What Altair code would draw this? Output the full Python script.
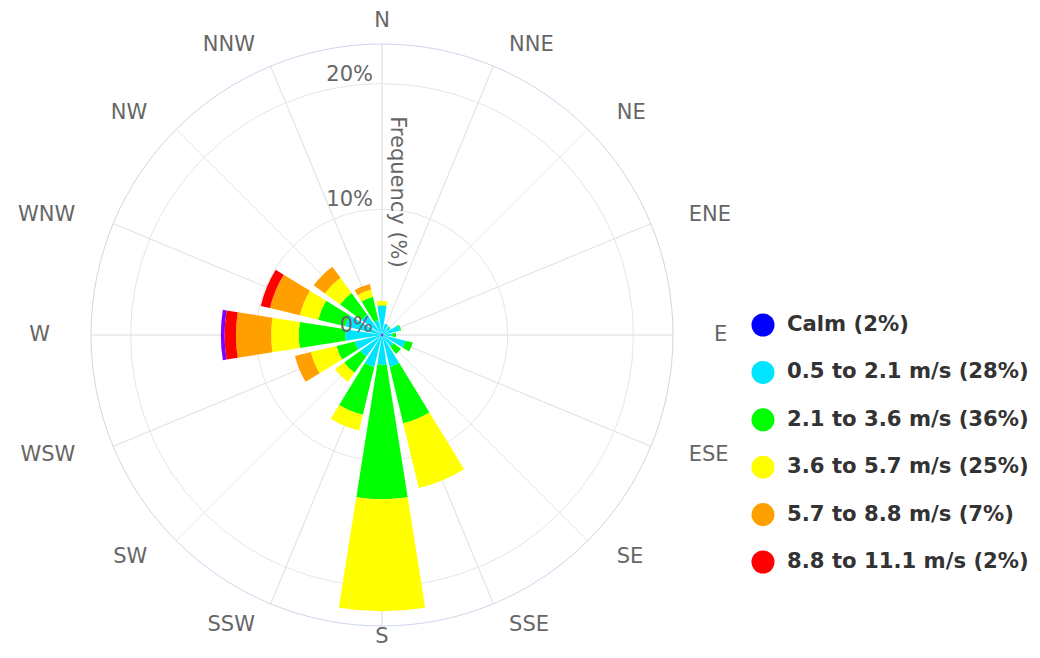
import math
import altair as alt
import pandas as pd

# ---------------- data ----------------
directions = ["N", "NNE", "NE", "ENE", "E", "ESE", "SE", "SSE",
              "S", "SSW", "SW", "WSW", "W", "WNW", "NW", "NNW"]
angles = [0, 22.5, 45, 67.5, 90, 112.5, 135, 157.5,
          180, 202.5, 225, 247.5, 270, 292.5, 315, 337.5]

calm     = [0.12, 0.12, 0.12, 0.12, 0.12, 0.12, 0.12, 0.12, 0.12, 0.12, 0.12, 0.12, 0.12, 0.12, 0.12, 0.12]
s_05_21  = [2.2, 0.8, 0.7, 1.35, 0.7, 1.8, 1.0, 2.5, 2.25, 2.5, 2.0, 2.1, 2.8, 2.9, 1.9, 1.1]
s_21_36  = [0.05, 0.0, 0.05, 0.1, 0.3, 0.6, 0.75, 4.6, 10.7, 3.9, 1.6, 1.5, 3.7, 2.2, 2.1, 1.9]
s_36_57  = [0.35, 0.0, 0.0, 0.0, 0.0, 0.0, 0.0, 5.3, 8.9, 1.3, 0.9, 2.1, 2.2, 1.5, 1.5, 0.6]
s_57_88  = [0.0, 0.0, 0.0, 0.0, 0.0, 0.0, 0.0, 0.0, 0.0, 0.0, 0.0, 1.3, 2.8, 2.45, 1.1, 0.45]
s_88_111 = [0.0, 0.0, 0.0, 0.0, 0.0, 0.0, 0.0, 0.0, 0.0, 0.0, 0.0, 0.0, 0.9, 0.75, 0.0, 0.0]
s_over   = [0.0, 0.0, 0.0, 0.0, 0.0, 0.0, 0.0, 0.0, 0.0, 0.0, 0.0, 0.0, 0.3, 0.0, 0.0, 0.0]

series_names = ["Calm", "0.5 to 2.1 m/s", "2.1 to 3.6 m/s", "3.6 to 5.7 m/s",
                "5.7 to 8.8 m/s", "8.8 to 11.1 m/s", "> 11.1 m/s"]
series_vals = [calm, s_05_21, s_21_36, s_36_57, s_57_88, s_88_111, s_over]
series_colors = ["#0000ff", "#00e5ff", "#00ff00", "#ffff00", "#ffa000", "#ff0000", "#8000ff"]

legend_labels = ["Calm (2%)", "0.5 to 2.1 m/s (28%)", "2.1 to 3.6 m/s (36%)",
                 "3.6 to 5.7 m/s (25%)", "5.7 to 8.8 m/s (7%)", "8.8 to 11.1 m/s (2%)"]
legend_colors = ["#0000ff", "#00e5ff", "#00ff00", "#ffff00", "#ffa000", "#ff0000"]

ring_values = [10, 20]
radial_ticks = [0, 10, 20]
radial_tick_labels = ["0%", "10%", "20%"]
RMAX = 23.15

# ---------------- layout ----------------
CX, CY = 374, 327
R = 291
HALF = 9            # half angular width of each wedge (deg)
LAB_RX, LAB_RY = 332, 314   # label anchor ellipse (px)
LABEL_FONT = "DejaVu Sans"

theta_scale = alt.Scale(domain=[0, 360], range=[0, 2 * math.pi])
r_scale = alt.Scale(type="linear", domain=[0, RMAX], range=[0, R], zero=True)

# bars
rows = []
for i, d in enumerate(directions):
    a = angles[i]
    cum = 0.0
    for name, vals, col in zip(series_names, series_vals, series_colors):
        v = vals[i]
        if v > 0:
            rows.append(dict(dir=d, t0=a - HALF, t1=a + HALF, r0=cum, r1=cum + v,
                             color=col, series=name))
        cum += v
bars_df = pd.DataFrame(rows)

rings_df = pd.DataFrame({
    "t0": [0] * (len(ring_values) + 1),
    "t1": [360] * (len(ring_values) + 1),
    "r": ring_values + [RMAX],
    "stroke": ["#e6e6e6"] * len(ring_values) + ["#ccd6eb"],
})
spokes_df = pd.DataFrame({"a": angles, "r": [RMAX] * len(angles)})
dir_df = pd.DataFrame({"a": angles, "label": directions})
tick_df = pd.DataFrame({"v": radial_ticks, "label": radial_tick_labels})
legend_df = pd.DataFrame({"label": legend_labels, "color": legend_colors})
title_df = pd.DataFrame({"t": ["Frequency (%)"]})

cx = alt.value(CX)
cy = alt.value(CY)

spokes = alt.Chart(spokes_df).mark_arc(stroke="#e6e6e6", strokeWidth=1, fillOpacity=0).encode(
    theta=alt.Theta("a:Q", scale=theta_scale, stack=None),
    theta2="a:Q",
    radius=alt.Radius("r:Q", scale=r_scale),
    x=cx, y=cy,
)

rings = alt.Chart(rings_df).mark_arc(strokeWidth=1, fillOpacity=0).encode(
    theta=alt.Theta("t0:Q", scale=theta_scale, stack=None),
    theta2="t1:Q",
    radius=alt.Radius("r:Q", scale=r_scale),
    stroke=alt.Stroke("stroke:N", scale=None),
    x=cx, y=cy,
)

bars = alt.Chart(bars_df).mark_arc().encode(
    theta=alt.Theta("t0:Q", scale=theta_scale, stack=None),
    theta2="t1:Q",
    radius=alt.Radius("r1:Q", scale=r_scale),
    radius2="r0:Q",
    color=alt.Color("color:N", scale=None),
    x=cx, y=cy,
)

tick_labels = alt.Chart(tick_df).mark_text(
    align="right", baseline="alphabetic", dx=-9, dy=-3,
    font=LABEL_FONT, fontSize=21, color="#666666",
).encode(
    theta=alt.value(0),
    radius=alt.Radius("v:Q", scale=r_scale),
    text="label:N",
    x=cx, y=cy,
)


def dir_layer(filter_expr, align, ry=LAB_RY):
    return alt.Chart(dir_df).transform_filter(filter_expr).transform_calculate(
        ex=f"{LAB_RX} * sin(datum.a * PI / 180)",
        ey=f"{ry} * cos(datum.a * PI / 180)",
    ).transform_calculate(
        lt="atan2(datum.ex, datum.ey) * 180 / PI",
        lr=f"sqrt(datum.ex * datum.ex + datum.ey * datum.ey) * {RMAX} / {R}",
    ).mark_text(
        align=align, baseline="middle",
        font=LABEL_FONT, fontSize=21, color="#666666",
    ).encode(
        theta=alt.Theta("lt:Q", scale=theta_scale, stack=None),
        radius=alt.Radius("lr:Q", scale=r_scale),
        text="label:N",
        x=cx, y=cy,
    )


dir_right = dir_layer("datum.a > 0 && datum.a < 180", "left")
dir_left = dir_layer("datum.a > 180", "right")
dir_n = dir_layer("datum.a == 0", "center")
dir_s = dir_layer("datum.a == 180", "center", ry=302)

title = alt.Chart(title_df).mark_text(
    angle=90, align="center", baseline="middle",
    font=LABEL_FONT, fontSize=21, color="#666666",
).encode(
    text="t:N",
    x=alt.value(389), y=alt.value(184),
)

leg_y = alt.Y("label:N", sort=legend_labels, axis=None,
              scale=alt.Scale(type="point", domain=legend_labels, range=[317, 554], padding=0))

legend_dots = alt.Chart(legend_df).mark_circle(size=530, opacity=1).encode(
    y=leg_y,
    x=alt.value(755),
    color=alt.Color("color:N", scale=None),
)
legend_text = alt.Chart(legend_df).mark_text(
    align="left", baseline="middle",
    font=LABEL_FONT, fontSize=21.2, fontWeight="bold", color="#333333",
).encode(
    y=leg_y,
    x=alt.value(779),
    text="label:N",
)

chart = alt.layer(
    spokes, rings, bars, tick_labels, dir_right, dir_left, dir_n, dir_s, title,
    legend_dots, legend_text
).properties(
    width=1024, height=642, padding=0, autosize="none", background="white"
).configure_view(stroke=None)

chart.save("out.html", embed_options={"renderer": "svg", "actions": False})
